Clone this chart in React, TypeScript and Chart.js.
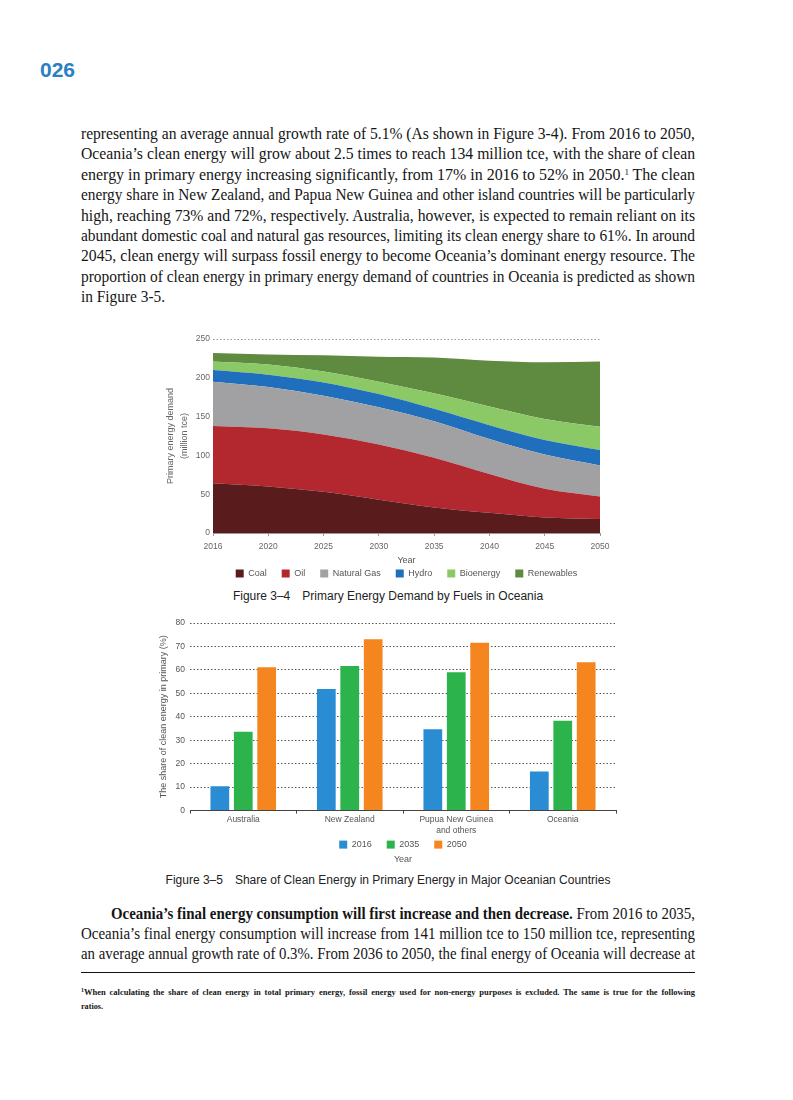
import React, { useEffect, useLayoutEffect, useRef } from 'react';
import { Chart, registerables } from 'chart.js';

Chart.register(...registerables);

const FONT = "'Liberation Sans', Arial, Helvetica, sans-serif";
const SERIF = "'Liberation Serif', 'Times New Roman', serif";

// ---- Figure 3-4 data (million tce) ----
const years = ['2016', '2020', '2025', '2030', '2035', '2040', '2045', '2050'];
const coal = [64, 60, 53, 43, 33, 26, 20, 18];
const oil = [74, 75, 74, 71, 64, 50, 37, 29];
const naturalGas = [57, 53, 50, 48, 47, 45, 44, 40];
const hydro = [15, 16, 17, 17, 16, 18, 19, 20];
const bioenergy = [11, 13, 14, 16, 20, 24, 27, 30];
const renewables = [11, 13, 21, 32, 46, 59, 73, 84];
const fuelNames = ['Coal', 'Oil', 'Natural Gas', 'Hydro', 'Bioenergy', 'Renewables'];
const fuelColors = ['#5a1b1c', '#b3272f', '#a1a1a4', '#1f6fbd', '#8bc866', '#5e8b40'];
const demandMax = 250;
const demandStep = 50;

// ---- Figure 3-5 data (%) ----
const countries: (string | string[])[] = ['Australia', 'New Zealand', ['Pupua New Guinea', 'and others'], 'Oceania'];
const shareYears = ['2016', '2035', '2050'];
const share2016 = [10.4, 51.9, 34.7, 16.7];
const share2035 = [33.6, 61.7, 59, 38.3];
const share2050 = [61.1, 73.1, 71.6, 63.3];
const shareColors = ['#2a8dd3', '#2cb34b', '#f5861f'];
const shareMax = 80;
const shareStep = 10;

function DemandChart() {
  const ref = useRef<HTMLCanvasElement>(null);
  useEffect(() => {
    if (!ref.current) return;
    const series = [coal, oil, naturalGas, hydro, bioenergy, renewables];
    const chart = new Chart(ref.current, {
      type: 'line',
      data: {
        labels: years,
        datasets: series.map((d, i) => ({
          label: fuelNames[i],
          data: d,
          backgroundColor: fuelColors[i],
          borderColor: 'rgba(0,0,0,0)',
          borderWidth: 0,
          pointRadius: 0,
          cubicInterpolationMode: 'monotone' as const,
          fill: i === 0 ? 'origin' : '-1',
        })),
      },
      options: {
        animation: false,
        responsive: false,
        layout: { padding: { left: 14, right: 20, top: 12, bottom: 0 } },
        plugins: {
          legend: {
            position: 'bottom',
            fullSize: false,
            labels: { boxWidth: 8, boxHeight: 8, padding: 15, color: '#555', font: { size: 9, family: FONT } },
          },
          tooltip: { enabled: false },
        },
        scales: {
          x: {
            type: 'category',
            offset: false,
            grid: { display: true, drawOnChartArea: false, drawTicks: true, tickLength: 3, color: '#999' },
            border: { display: true, color: '#999' },
            ticks: { color: '#666', font: { size: 8.5, family: FONT }, padding: 6, maxRotation: 0, autoSkip: false },
            title: { display: true, text: 'Year', color: '#555', font: { size: 9, family: FONT }, padding: { top: 0, bottom: -12.4 } },
            afterFit: (s: any) => { s.height = 21; },
          },
          y: {
            stacked: true,
            min: 0,
            max: demandMax,
            ticks: { stepSize: demandStep, color: '#666', font: { size: 8.5, family: FONT }, padding: 3 },
            grid: {
              drawTicks: false,
              color: (c: any) => (c.tick && c.tick.value === demandMax ? '#999' : 'rgba(0,0,0,0)'),
            },
            border: { display: false, dash: [1.5, 2] },
            title: {
              display: true,
              text: ['Primary energy demand', '(million tce)'],
              color: '#666',
              font: { size: 9, family: FONT, lineHeight: 1.5 },
              padding: 0,
            },
            afterFit: (s: any) => { s.width = 49; },
          },
        },
      } as any,
    });
    return () => chart.destroy();
  }, []);
  return <canvas ref={ref} width={470} height={261} style={{ position: 'absolute', left: 150, top: 327, width: 470, height: 261 }} />;
}

// lets the two-line category label draw below the tight x-axis box
const extendXLabelArea = {
  id: 'extendXLabelArea',
  afterLayout(chart: any) {
    const s = chart.scales.x;
    s.bottom = s.top + 32;
    s.height = 32;
  },
};

function ShareChart() {
  const ref = useRef<HTMLCanvasElement>(null);
  useEffect(() => {
    if (!ref.current) return;
    const series = [share2016, share2035, share2050];
    const chart = new Chart(ref.current, {
      type: 'bar',
      data: {
        labels: countries as any,
        datasets: series.map((d, i) => ({
          label: shareYears[i],
          data: d,
          backgroundColor: shareColors[i],
          borderWidth: 0,
          categoryPercentage: 0.66,
          barPercentage: 0.8,
        })),
      },
      plugins: [extendXLabelArea],
      options: {
        animation: false,
        responsive: false,
        layout: { padding: { left: 8, right: 9, top: 11, bottom: 0 } },
        plugins: {
          legend: {
            position: 'bottom',
            fullSize: false,
            labels: { boxWidth: 8, boxHeight: 8, padding: 15, color: '#555', font: { size: 9, family: FONT } },
          },
          title: {
            display: true,
            position: 'bottom',
            fullSize: false,
            text: 'Year',
            color: '#555',
            font: { size: 9, family: FONT, weight: 'normal' },
            padding: { top: -4.9, bottom: 0 },
          },
          tooltip: { enabled: false },
        },
        scales: {
          x: {
            grid: { display: true, drawOnChartArea: false, drawTicks: true, tickLength: 3, color: '#444', offset: true },
            border: { display: true, color: '#444' },
            ticks: { color: '#555', font: { size: 8.5, family: FONT, lineHeight: 1.3 }, padding: 0.5, maxRotation: 0, autoSkip: false },
            afterFit: (s: any) => { s.height = 14.5; },
          },
          y: {
            min: 0,
            max: shareMax,
            ticks: { stepSize: shareStep, color: '#555', font: { size: 8.5, family: FONT }, padding: 5 },
            grid: {
              drawTicks: false,
              color: (c: any) => (c.tick && c.tick.value === 0 ? 'rgba(0,0,0,0)' : '#555'),
            },
            border: { display: false, dash: [1.5, 2] },
            title: {
              display: true,
              text: 'The share of clean energy in primary (%)',
              color: '#555',
              font: { size: 9, family: FONT },
              padding: 0,
            },
            afterFit: (s: any) => { s.width = 32; },
          },
        },
      } as any,
    });
    return () => chart.destroy();
  }, []);
  return <canvas ref={ref} width={475} height={253} style={{ position: 'absolute', left: 150, top: 612, width: 475, height: 253 }} />;
}

const TEXT_LEFT = 81;
const TEXT_WIDTH = 614;

function JLine(props: { top: number; children: React.ReactNode; justify?: boolean; indent?: number; size?: number; weight?: any; lh?: number }) {
  const { top, children, justify = true, indent = 0, size = 16, weight = 'normal', lh = 20 } = props;
  const ref = useRef<HTMLSpanElement>(null);
  useLayoutEffect(() => {
    const el = ref.current;
    if (!el) return;
    el.style.wordSpacing = '0px';
    el.style.transform = 'none';
    const w = el.getBoundingClientRect().width;
    const avail = TEXT_WIDTH - indent;
    if (w > avail) {
      el.style.transform = `scaleX(${avail / w})`;
    } else if (justify) {
      const spaces = (el.textContent || '').split(' ').length - 1;
      if (spaces > 0) el.style.wordSpacing = `${(avail - w) / spaces}px`;
    } else {
      el.style.transform = 'scaleX(0.96)';
    }
  }, []);
  return (
    <div style={{ position: 'absolute', left: TEXT_LEFT + indent, top, whiteSpace: 'nowrap', fontSize: size, lineHeight: `${lh}px`, fontFamily: SERIF, fontWeight: weight, color: '#151515' }}>
      <span ref={ref} style={{ display: 'inline-block', transformOrigin: 'left center' }}>{children}</span>
    </div>
  );
}

const para1: React.ReactNode[] = [
  'representing an average annual growth rate of 5.1% (As shown in Figure 3-4). From 2016 to 2050,',
  'Oceania’s clean energy will grow about 2.5 times to reach 134 million tce, with the share of clean',
  <>energy in primary energy increasing significantly, from 17% in 2016 to 52% in 2050.<sup style={{ fontSize: 9, verticalAlign: 'top', lineHeight: '14px' }}>1</sup> The clean</>,
  'energy share in New Zealand, and Papua New Guinea and other island countries will be particularly',
  'high, reaching 73% and 72%, respectively. Australia, however, is expected to remain reliant on its',
  'abundant domestic coal and natural gas resources, limiting its clean energy share to 61%. In around',
  '2045, clean energy will surpass fossil energy to become Oceania’s dominant energy resource. The',
  'proportion of clean energy in primary energy demand of countries in Oceania is predicted as shown',
];

export default function App() {
  return (
    <div style={{ position: 'absolute', left: 0, top: 0, width: 793, height: 1100, background: '#fff', overflow: 'hidden' }}>
      <div style={{ position: 'absolute', left: 40, top: 58, fontFamily: FONT, fontWeight: 'bold', fontSize: 21, lineHeight: '24px', color: '#2a80c2' }}>026</div>

      {para1.map((t, i) => (
        <JLine key={i} top={124 + i * 20.4}>{t}</JLine>
      ))}
      <JLine top={124 + 8 * 20.4} justify={false}>in Figure 3-5.</JLine>

      <DemandChart />
      <div style={{ position: 'absolute', left: 88, width: 600, top: 589, textAlign: 'center', fontFamily: FONT, fontSize: 12, lineHeight: '14px', color: '#222' }}>
        Figure 3–4<span style={{ display: 'inline-block', width: 12 }} />Primary Energy Demand by Fuels in Oceania
      </div>

      <ShareChart />
      <div style={{ position: 'absolute', left: 88, width: 600, top: 873, textAlign: 'center', fontFamily: FONT, fontSize: 12, lineHeight: '14px', color: '#222' }}>
        Figure 3–5<span style={{ display: 'inline-block', width: 12 }} />Share of Clean Energy in Primary Energy in Major Oceanian Countries
      </div>

      <JLine top={904} indent={30}><b>Oceania’s final energy consumption will first increase and then decrease.</b> From 2016 to 2035,</JLine>
      <JLine top={924.2}>Oceania’s final energy consumption will increase from 141 million tce to 150 million tce, representing</JLine>
      <JLine top={944.4}>an average annual growth rate of 0.3%. From 2036 to 2050, the final energy of Oceania will decrease at</JLine>

      <div style={{ position: 'absolute', left: TEXT_LEFT, top: 972, width: TEXT_WIDTH, height: 1, background: '#111' }} />
      <JLine top={986} size={8.5} weight="bold" lh={12}><sup style={{ fontSize: 6, verticalAlign: 'top', lineHeight: '8px' }}>1</sup>When calculating the share of clean energy in total primary energy, fossil energy used for non-energy purposes is excluded. The same is true for the following</JLine>
      <JLine top={1000} size={8.5} weight="bold" lh={12} justify={false}>ratios.</JLine>
    </div>
  );
}
